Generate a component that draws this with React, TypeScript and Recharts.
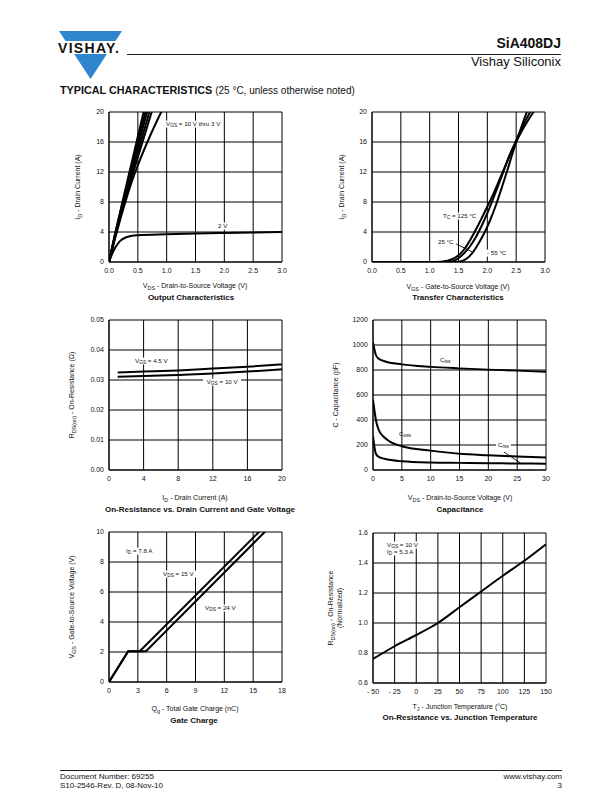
import React from "react";
import { LineChart, Line, XAxis, YAxis, CartesianGrid, ReferenceLine } from "recharts";

const FONT = "'Liberation Sans', Arial, Helvetica, sans-serif";

type P = [number, number];
const pts = (a: P[]) => a.map(([x, y]) => ({ x, y }));

// Output characteristics
const outTicksX = [0, 0.5, 1, 1.5, 2, 2.5, 3];
const outTicksY = [0, 4, 8, 12, 16, 20];
const outVgs10: P[] = [[0, 0], [0.1, 3.6], [0.3, 10.2], [0.6, 20], [0.64, 21.3]];
const outVgs5: P[] = [[0, 0], [0.1, 3.5], [0.3, 9.9], [0.63, 20], [0.67, 21.2]];
const outVgs45: P[] = [[0, 0], [0.1, 3.4], [0.3, 9.6], [0.66, 20], [0.7, 21.1]];
const outVgs4: P[] = [[0, 0], [0.1, 3.3], [0.3, 9.3], [0.7, 20], [0.74, 21]];
const outVgs35: P[] = [[0, 0], [0.1, 3.2], [0.3, 8.9], [0.74, 20], [0.78, 21]];
const outVgs3: P[] = [[0, 0], [0.1, 3.0], [0.2, 5.8], [0.3, 8.4], [0.4, 10.8], [0.5, 12.9], [0.6, 14.8], [0.7, 16.6], [0.8, 18.3], [0.9, 19.9], [0.96, 20.8]];
const outVgs2: P[] = [[0, 0], [0.05, 1.0], [0.1, 1.8], [0.15, 2.4], [0.2, 2.85], [0.3, 3.3], [0.4, 3.5], [0.5, 3.57], [1.0, 3.7], [1.5, 3.8], [2.0, 3.87], [2.5, 3.93], [3.0, 4.0]];

// Transfer characteristics
const trTicksX = [0, 0.5, 1, 1.5, 2, 2.5, 3];
const trTicksY = [0, 4, 8, 12, 16, 20];
const trT125: P[] = [[0, 0], [1.0, 0], [1.2, 0.05], [1.4, 0.4], [1.5, 0.9], [1.6, 1.7], [1.7, 2.9], [1.8, 4.3], [1.9, 5.8], [2.0, 7.4], [2.1, 9.0], [2.2, 10.8], [2.3, 12.6], [2.4, 14.4], [2.5, 16.0], [2.6, 17.5], [2.7, 18.8], [2.8, 20.0], [2.9, 21.1]];
const trT25: P[] = [[0, 0], [1.3, 0], [1.4, 0.1], [1.5, 0.5], [1.6, 1.2], [1.7, 2.1], [1.8, 3.3], [1.9, 4.8], [2.0, 6.5], [2.1, 8.4], [2.2, 10.4], [2.3, 12.5], [2.4, 14.5], [2.5, 16.2], [2.6, 17.9], [2.7, 19.4], [2.8, 20.8]];
const trTm55: P[] = [[0, 0], [1.45, 0], [1.55, 0.1], [1.65, 0.5], [1.75, 1.3], [1.85, 2.5], [1.95, 3.9], [2.05, 5.6], [2.15, 7.6], [2.25, 9.9], [2.35, 12.3], [2.45, 14.8], [2.55, 17.1], [2.65, 19.3], [2.75, 21.3]];

// On-resistance vs drain current
const rdTicksX = [0, 4, 8, 12, 16, 20];
const rdTicksY = [0, 0.01, 0.02, 0.03, 0.04, 0.05];
const rdVgs45: P[] = [[1, 0.0325], [4, 0.0328], [8, 0.0332], [12, 0.0338], [16, 0.0344], [20, 0.0352]];
const rdVgs10: P[] = [[1, 0.0311], [4, 0.0313], [8, 0.0317], [12, 0.0322], [16, 0.0328], [20, 0.0336]];

// Capacitance
const capTicksX = [0, 5, 10, 15, 20, 25, 30];
const capTicksY = [0, 200, 400, 600, 800, 1000, 1200];
const capCiss: P[] = [[0, 1020], [0.5, 920], [1, 890], [2, 870], [5, 845], [10, 825], [15, 813], [20, 803], [25, 795], [30, 785]];
const capCoss: P[] = [[0, 560], [0.3, 460], [0.5, 400], [1, 320], [2, 260], [3, 225], [5, 190], [10, 155], [15, 130], [20, 118], [25, 108], [30, 100]];
const capCrss: P[] = [[0, 270], [0.3, 170], [0.5, 130], [1, 105], [2, 90], [5, 70], [10, 60], [15, 57], [20, 54], [25, 52], [30, 50]];

// Gate charge
const gcTicksX = [0, 3, 6, 9, 12, 15, 18];
const gcTicksY = [0, 2, 4, 6, 8, 10];
const gcVds15: P[] = [[0, 0], [2.0, 2.05], [3.2, 2.05], [15.6, 10], [16.2, 10.4]];
const gcVds24: P[] = [[0, 0], [2.0, 2.05], [3.85, 2.05], [16.2, 10], [16.8, 10.4]];

// On-resistance vs junction temperature
const tjTicksX = [-50, -25, 0, 25, 50, 75, 100, 125, 150];
const tjTicksY = [0.6, 0.8, 1.0, 1.2, 1.4, 1.6];
const tjTemps = [-50, -25, 0, 25, 50, 75, 100, 125, 150];
const tjRds = [0.76, 0.845, 0.92, 1.0, 1.105, 1.21, 1.315, 1.415, 1.525];

const tickStyle = { fontSize: 7, fill: "#111", fontFamily: FONT };

function Panel({ left, top, xDomain, xTicks, yDomain, yTicks, xFmt, yFmt, children }: any) {
  const W = 173, H = 150, YW = 30, MT = 5, MR = 6, XH = 16;
  return (
    <div style={{ position: "absolute", left: left - YW, top: top - MT }}>
      <LineChart width={W + YW + MR} height={H + MT + XH} margin={{ top: MT, right: MR, bottom: 0, left: 0 }}>
        <CartesianGrid stroke="#000" strokeWidth={1} />
        <XAxis
          type="number"
          dataKey="x"
          domain={xDomain}
          ticks={xTicks}
          tickFormatter={xFmt}
          interval={0}
          height={XH}
          tickSize={4}
          tickMargin={2}
          tickLine={false}
          axisLine={{ stroke: "#000" }}
          tick={tickStyle}
          allowDataOverflow
        />
        <YAxis
          type="number"
          domain={yDomain}
          ticks={yTicks}
          tickFormatter={yFmt}
          interval={0}
          width={YW}
          tickSize={3}
          tickMargin={2}
          tickLine={false}
          axisLine={{ stroke: "#000" }}
          tick={tickStyle}
          allowDataOverflow
        />
        {children}
      </LineChart>
    </div>
  );
}

const curve = (name: string, data: P[], type: any = "monotone") => (
  <Line
    key={name}
    name={name}
    data={pts(data)}
    dataKey="y"
    type={type}
    stroke="#000"
    strokeWidth={2}
    dot={false}
    isAnimationActive={false}
  />
);

const Sub = ({ children }: any) => (
  <span style={{ fontSize: "0.78em", position: "relative", top: "0.3em" }}>{children}</span>
);

function Txt({ x, y, size = 6.2, bold = false, align = "left", bg = false, children }: any) {
  const tx = align === "left" ? "0" : align === "right" ? "-100%" : "-50%";
  return (
    <div
      style={{
        position: "absolute",
        left: x,
        top: y,
        transform: `translate(${tx}, -50%)`,
        fontSize: size,
        fontWeight: bold ? "bold" : "normal",
        fontFamily: FONT,
        lineHeight: 1.1,
        whiteSpace: "nowrap",
        color: "#111",
        background: bg ? "#fff" : "transparent",
        padding: bg ? "0 2px" : 0,
      }}
    >
      {children}
    </div>
  );
}

function VTxt({ x, y, size = 7, children }: any) {
  return (
    <div
      style={{
        position: "absolute",
        left: x,
        top: y,
        transform: "translate(-50%, -50%) rotate(-90deg)",
        fontSize: size,
        fontFamily: FONT,
        lineHeight: 1.25,
        whiteSpace: "nowrap",
        color: "#111",
        textAlign: "center",
      }}
    >
      {children}
    </div>
  );
}

const f1 = (v: number) => v.toFixed(1);
const f2 = (v: number) => v.toFixed(2);
const f0 = (v: number) => `${v}`;
const fNeg = (v: number) => (v < 0 ? `- ${-v}` : `${v}`);

export default function App() {
  return (
    <div style={{ position: "absolute", left: 0, top: 0, width: 612, height: 792, background: "#fff", fontFamily: FONT }}>
      {/* header */}
      <svg style={{ position: "absolute", left: 0, top: 0 }} width={140} height={90}>
        <polygon points="59,31 122,31 90.5,79" fill="#2f86cf" />
        <rect x={56} y={41} width={68} height={13} fill="#fff" />
        <text x={58} y={52.5} fontFamily={FONT} fontWeight="bold" fontSize={14} fill="#111" textLength={61}>
          VISHAY.
        </text>
      </svg>
      <div style={{ position: "absolute", left: 127, top: 54, width: 434, height: 1, background: "#222" }} />
      <Txt x={561} y={44} size={14} bold align="right">SiA408DJ</Txt>
      <Txt x={561} y={62} size={13} align="right">Vishay Siliconix</Txt>
      <Txt x={60} y={91} size={10.8} bold>
        TYPICAL CHARACTERISTICS <span style={{ fontWeight: "normal", fontSize: 10 }}>(25 °C, unless otherwise noted)</span>
      </Txt>

      {/* Output characteristics */}
      <Panel left={109} top={112} xDomain={[0, 3]} xTicks={outTicksX} yDomain={[0, 20]} yTicks={outTicksY} xFmt={f1} yFmt={f0}>
        {curve("10V", outVgs10, "linear")}
        {curve("5V", outVgs5, "linear")}
        {curve("4.5V", outVgs45, "linear")}
        {curve("4V", outVgs4, "linear")}
        {curve("3.5V", outVgs35, "linear")}
        {curve("3V", outVgs3)}
        {curve("2V", outVgs2)}
      </Panel>
      <Txt x={164} y={124} bg>V<Sub>GS</Sub> = 10 V thru 3 V</Txt>
      <Txt x={216} y={226} bg>2 V</Txt>
      <VTxt x={78} y={187}>I<Sub>D</Sub> - Drain Current (A)</VTxt>
      <Txt x={195} y={286} size={7} align="center">V<Sub>DS</Sub> - Drain-to-Source Voltage (V)</Txt>
      <Txt x={191} y={298} size={8} bold align="center">Output Characteristics</Txt>

      {/* Transfer characteristics */}
      <Panel left={372} top={112} xDomain={[0, 3]} xTicks={trTicksX} yDomain={[0, 20]} yTicks={trTicksY} xFmt={f1} yFmt={f0}>
        {curve("125", trT125)}
        {curve("25", trT25)}
        {curve("-55", trTm55)}
        <ReferenceLine segment={[{ x: 1.46, y: 2.4 }, { x: 1.75, y: 1.3 }]} stroke="#000" strokeWidth={0.9} />
      </Panel>
      <Txt x={441} y={216} bg>T<Sub>C</Sub> = 125 °C</Txt>
      <Txt x={436} y={242} bg>25 °C</Txt>
      <Txt x={485} y={253} bg>- 55 °C</Txt>
      <VTxt x={342} y={187}>I<Sub>D</Sub> - Drain Current (A)</VTxt>
      <Txt x={458} y={287} size={7} align="center">V<Sub>GS</Sub> - Gate-to-Source Voltage (V)</Txt>
      <Txt x={458} y={298} size={8} bold align="center">Transfer Characteristics</Txt>

      {/* On-resistance vs drain current */}
      <Panel left={109} top={320} xDomain={[0, 20]} xTicks={rdTicksX} yDomain={[0, 0.05]} yTicks={rdTicksY} xFmt={f0} yFmt={f2}>
        {curve("4.5V", rdVgs45)}
        {curve("10V", rdVgs10)}
      </Panel>
      <Txt x={133} y={361} bg>V<Sub>GS</Sub> = 4.5 V</Txt>
      <Txt x={203} y={382} bg>&nbsp;V<Sub>GS</Sub> = 10 V&nbsp;</Txt>
      <VTxt x={72} y={395}>R<Sub>DS(on)</Sub> - On-Resistance (Ω)</VTxt>
      <Txt x={195} y={498} size={7} align="center">I<Sub>D</Sub> - Drain Current (A)</Txt>
      <Txt x={200} y={510} size={8} bold align="center">On-Resistance vs. Drain Current and Gate Voltage</Txt>

      {/* Capacitance */}
      <Panel left={373} top={320} xDomain={[0, 30]} xTicks={capTicksX} yDomain={[0, 1200]} yTicks={capTicksY} xFmt={f0} yFmt={f0}>
        {curve("Ciss", capCiss)}
        {curve("Coss", capCoss)}
        {curve("Crss", capCrss)}
        <ReferenceLine segment={[{ x: 22.7, y: 144 }, { x: 25.6, y: 55 }]} stroke="#000" strokeWidth={0.9} />
      </Panel>
      <Txt x={440} y={360}>C<Sub>iss</Sub></Txt>
      <Txt x={399} y={434}>C<Sub>oss</Sub></Txt>
      <Txt x={496} y={445} bg>C<Sub>rss</Sub></Txt>
      <VTxt x={336} y={395}>C - Capacitance (pF)</VTxt>
      <Txt x={460} y={498} size={7} align="center">V<Sub>DS</Sub> - Drain-to-Source Voltage (V)</Txt>
      <Txt x={460} y={510} size={8} bold align="center">Capacitance</Txt>

      {/* Gate charge */}
      <Panel left={109} top={532} xDomain={[0, 18]} xTicks={gcTicksX} yDomain={[0, 10]} yTicks={gcTicksY} xFmt={f0} yFmt={f0}>
        {curve("15V", gcVds15, "linear")}
        {curve("24V", gcVds24, "linear")}
      </Panel>
      <Txt x={124} y={551} bg>I<Sub>D</Sub> = 7.8 A</Txt>
      <Txt x={161} y={574} bg>V<Sub>DS</Sub> = 15 V</Txt>
      <Txt x={203} y={608} bg>V<Sub>DS</Sub> = 24 V</Txt>
      <VTxt x={72} y={607}>V<Sub>GS</Sub> - Gate-to-Source Voltage (V)</VTxt>
      <Txt x={195} y={709} size={7} align="center">Q<Sub>g</Sub> - Total Gate Charge (nC)</Txt>
      <Txt x={194} y={721} size={8} bold align="center">Gate Charge</Txt>

      {/* On-resistance vs junction temperature */}
      <Panel left={373} top={533} xDomain={[-50, 150]} xTicks={tjTicksX} yDomain={[0.6, 1.6]} yTicks={tjTicksY} xFmt={fNeg} yFmt={f1}>
        {curve("RdsNorm", tjTemps.map((t, i) => [t, tjRds[i]] as P))}
      </Panel>
      <Txt x={385} y={545} bg>V<Sub>GS</Sub> = 10 V</Txt>
      <Txt x={385} y={552} bg>I<Sub>D</Sub> = 5.3 A</Txt>
      <VTxt x={336} y={608}>
        R<Sub>DS(on)</Sub> - On-Resistance
        <br />
        (Normalized)
      </VTxt>
      <Txt x={460} y={707} size={7} align="center">T<Sub>J</Sub> - Junction Temperature (°C)</Txt>
      <Txt x={460} y={718} size={8} bold align="center">On-Resistance vs. Junction Temperature</Txt>

      {/* footer */}
      <div style={{ position: "absolute", left: 60, top: 770, width: 502, height: 1, background: "#222" }} />
      <Txt x={60} y={777} size={8}>Document Number: 69255</Txt>
      <Txt x={60} y={786} size={8}>S10-2546-Rev. D, 08-Nov-10</Txt>
      <Txt x={562} y={777} size={8} align="right">www.vishay.com</Txt>
      <Txt x={562} y={786} size={8} align="right">3</Txt>
    </div>
  );
}
